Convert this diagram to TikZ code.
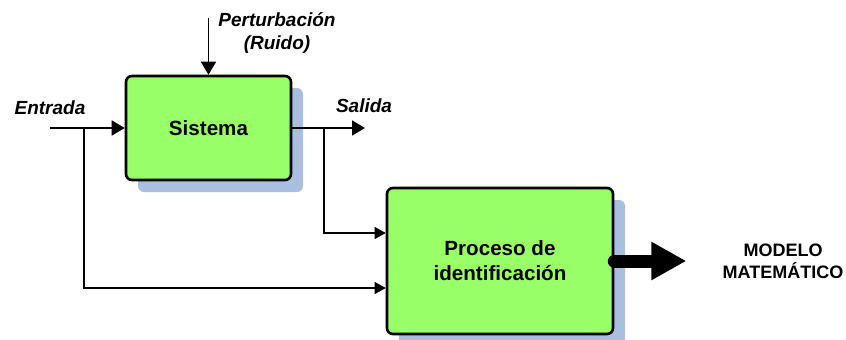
\documentclass[tikz,border=0pt]{standalone}
\usepackage{fontspec}
\setmainfont{Liberation Sans}
\usetikzlibrary{shadows,arrows.meta,calc}
\definecolor{verdecaja}{HTML}{99FF66}
\definecolor{sombraazul}{HTML}{A8BFE0}

\begin{document}
\begin{tikzpicture}[x=0.5pt,y=-0.5pt,
    caja/.style={draw,line width=1.3pt,fill=verdecaja,rounded corners=3pt,align=center,
        font=\fontsize{10.3}{12.5}\selectfont\bfseries,
        drop shadow={shadow xshift=6pt,shadow yshift=-6pt,fill=sombraazul,opacity=1}},
    etiqueta/.style={align=center,font=\fontsize{9.5}{11.5}\selectfont\bfseries\itshape},
    flecha/.style={line width=0.9pt,-{Triangle[length=6.5pt,width=7.5pt]}},
    rama/.style={line width=0.6pt,-{Triangle[length=5.5pt,width=6pt]}}]
    \useasboundingbox (0,0) rectangle (846,339); % 画布大小
    \node[caja,minimum width=82.5pt,minimum height=52pt] (sist) at (208.5,128) {Sistema}; % 系统方框
    \node[caja,minimum width=113pt,minimum height=73pt] (proc) at (500,261) {Proceso de\\identificación}; % 辨识方框
    \coordinate (ent) at (50,128); % 输入起点
    \coordinate (sal) at (365,128); % 输出终点
    \coordinate (pert) at (208.5,18); % 扰动起点
    \coordinate (nudoE) at (84,128); % 输入分支点
    \coordinate (nudoS) at (324,128); % 输出分支点
    \node[etiqueta] (tEnt) at (50,108) {Entrada}; % 标注输入
    \node[etiqueta] (tSal) at (364,106) {Salida}; % 标注输出
    \node[etiqueta] (tPert) at (277,33) {Perturbación\\(Ruido)}; % 标注扰动
    \node[align=center,font=\fontsize{9}{11}\selectfont\bfseries] (modelo) at (783,261) {MODELO\\MATEMÁTICO}; % 标注模型
    \draw[flecha] (ent) -- (sist); % 输入箭头
    \draw[flecha] (pert) -- (sist.north); % 扰动箭头
    \draw[flecha] (sist.east) -- (sal); % 输出箭头
    \draw[rama] (nudoS) |- ($(proc.west)+(0,-28)$); % 输出到辨识
    \draw[rama] (nudoE) |- ($(proc.west)+(0,27)$); % 输入到辨识
    \draw[line width=6.5pt,line cap=round,-{Triangle[length=17.5pt,width=18pt]}] (proc.east) -- ($(proc.east)+(72,0)$); % 粗箭头
\end{tikzpicture}
\end{document}
